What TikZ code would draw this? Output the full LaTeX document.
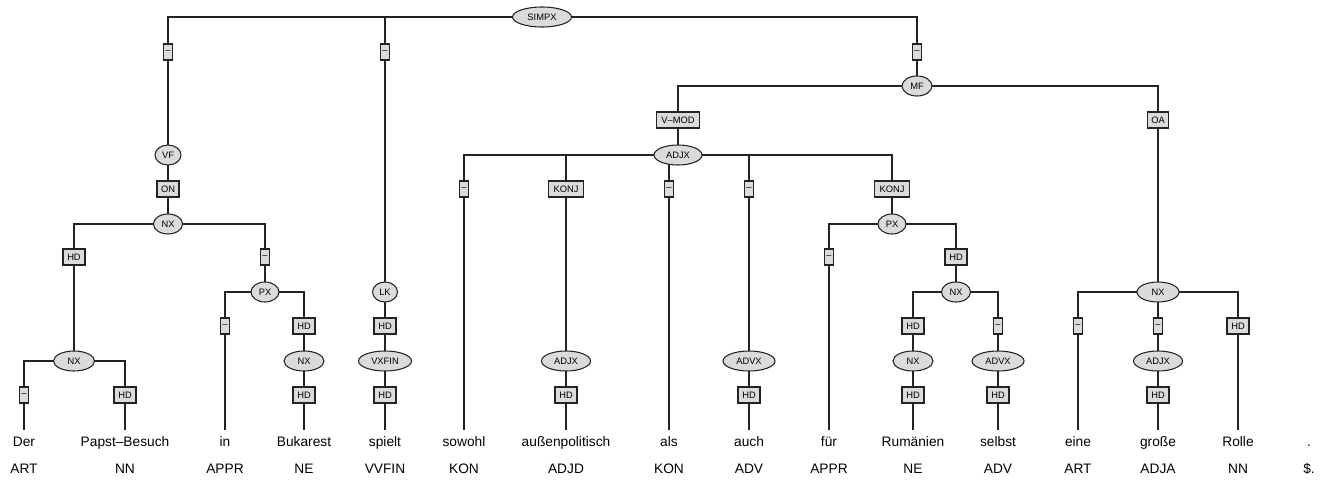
\documentclass[tikz,border=0pt]{standalone}
\usepackage{fontspec}
\setmainfont{Liberation Sans}
\usetikzlibrary{shapes.geometric,backgrounds}
\definecolor{nfill}{RGB}{218,220,218}
\definecolor{lcol}{RGB}{35,35,35}
\begin{document}
\begin{tikzpicture}[x=0.75pt,y=-0.75pt,
  cat/.style={ellipse,draw=lcol,fill=nfill,line width=0.8pt,inner sep=0pt,
    minimum height=15pt,minimum width=#1*0.75pt,font=\fontsize{7}{8}\selectfont},
  lab/.style={rectangle,draw=lcol,fill=nfill,line width=0.8pt,inner sep=0pt,
    minimum height=12pt,minimum width=#1*0.75pt,font=\fontsize{7}{8}\selectfont},
  dashbox/.style={lab=9},
  hdbox/.style={lab=22},
  wd/.style={font=\fontsize{10.3}{12}\selectfont,text height=8pt,text depth=2.5pt,
    inner xsep=0pt,inner ysep=4.5pt,anchor=north},
  postag/.style={font=\fontsize{10.3}{12}\selectfont,inner sep=0pt,anchor=base},
  br/.style={draw=lcol,line width=1pt}]
\useasboundingbox (0,0) rectangle (1337,483);
% nodes
\node[cat=59] (simpx) at (542,17) {SIMPX};
\node[dashbox] (e1) at (168,52) {–};
\node[dashbox] (e2) at (385,52) {–};
\node[dashbox] (e3) at (917,52) {–};
\node[cat=26] (vf) at (168,155) {VF};
\node[lab=22] (on) at (168,189) {ON};
\node[cat=29] (nx1) at (168,224) {NX};
\node[hdbox] (e4) at (74,257) {HD};
\node[dashbox] (e5) at (265,257) {–};
\node[cat=41] (nx2) at (74,361) {NX};
\node[dashbox] (e6) at (24,395) {–};
\node[hdbox] (e7) at (125,395) {HD};
\node[cat=28] (px1) at (265,292) {PX};
\node[dashbox] (e8) at (225,326) {–};
\node[hdbox] (e9) at (304,326) {HD};
\node[cat=40] (nx3) at (304,361) {NX};
\node[hdbox] (e10) at (304,395) {HD};
\node[cat=25] (lk) at (385,292) {LK};
\node[hdbox] (e11) at (385,326) {HD};
\node[cat=53] (vxfin) at (385,361) {VXFIN};
\node[hdbox] (e12) at (385,395) {HD};
\node[cat=30] (mf) at (917,86) {MF};
\node[lab=43] (e13) at (678,120) {V–MOD};
\node[lab=21] (e14) at (1158,120) {OA};
\node[cat=48] (adjx1) at (678,155) {ADJX};
\node[dashbox] (e15) at (464,189) {–};
\node[lab=35] (e16) at (566,189) {KONJ};
\node[dashbox] (e17) at (669,189) {–};
\node[dashbox] (e18) at (749,189) {–};
\node[lab=35] (e19) at (892,189) {KONJ};
\node[cat=49] (adjx2) at (566,361) {ADJX};
\node[hdbox] (e20) at (566,395) {HD};
\node[cat=52] (advx1) at (749,361) {ADVX};
\node[hdbox] (e21) at (749,395) {HD};
\node[cat=28] (px2) at (892,224) {PX};
\node[dashbox] (e22) at (829,257) {–};
\node[hdbox] (e23) at (956,257) {HD};
\node[cat=29] (nx4) at (956,292) {NX};
\node[hdbox] (e24) at (913,326) {HD};
\node[dashbox] (e25) at (998,326) {–};
\node[cat=40] (nx5) at (913,361) {NX};
\node[hdbox] (e26) at (913,395) {HD};
\node[cat=52] (advx2) at (998,361) {ADVX};
\node[hdbox] (e27) at (998,395) {HD};
\node[cat=42] (nx6) at (1158,292) {NX};
\node[dashbox] (e28) at (1078,326) {–};
\node[dashbox] (e29) at (1158,326) {–};
\node[hdbox] (e30) at (1238,326) {HD};
\node[cat=49] (adjx3) at (1158,361) {ADJX};
\node[hdbox] (e31) at (1158,395) {HD};
% words
\node[wd] (w1) at (24,430) {Der};
\node[wd] (w2) at (125,430) {Papst–Besuch};
\node[wd] (w3) at (225,430) {in};
\node[wd] (w4) at (304,430) {Bukarest};
\node[wd] (w5) at (385,430) {spielt};
\node[wd] (w6) at (464,430) {sowohl};
\node[wd] (w7) at (566,430) {außenpolitisch};
\node[wd] (w8) at (669,430) {als};
\node[wd] (w9) at (749,430) {auch};
\node[wd] (w10) at (829,430) {für};
\node[wd] (w11) at (913,430) {Rumänien};
\node[wd] (w12) at (998,430) {selbst};
\node[wd] (w13) at (1078,430) {eine};
\node[wd] (w14) at (1158,430) {große};
\node[wd] (w15) at (1238,430) {Rolle};
\node[wd] (w16) at (1309,430) {.};
% POS tags
\node[postag] (p1) at (24,473.3) {ART};
\node[postag] (p2) at (125,473.3) {NN};
\node[postag] (p3) at (225,473.3) {APPR};
\node[postag] (p4) at (304,473.3) {NE};
\node[postag] (p5) at (385,473.3) {VVFIN};
\node[postag] (p6) at (464,473.3) {KON};
\node[postag] (p7) at (566,473.3) {ADJD};
\node[postag] (p8) at (669,473.3) {KON};
\node[postag] (p9) at (749,473.3) {ADV};
\node[postag] (p10) at (829,473.3) {APPR};
\node[postag] (p11) at (913,473.3) {NE};
\node[postag] (p12) at (998,473.3) {ADV};
\node[postag] (p13) at (1078,473.3) {ART};
\node[postag] (p14) at (1158,473.3) {ADJA};
\node[postag] (p15) at (1238,473.3) {NN};
\node[postag] (p16) at (1309,473.3) {\$.};
% connectors
\begin{scope}[on background layer]
\draw[br] (simpx.center) -| (e1.center) -- (vf.center) -- (on.center) -- (nx1.center);
\draw[br] (nx1.center) -| (e4.center) -- (nx2.center);
\draw[br] (nx2.center) -| (e6.center) -- (w1.north);
\draw[br] (nx2.center) -| (e7.center) -- (w2.north);
\draw[br] (nx1.center) -| (e5.center) -- (px1.center);
\draw[br] (px1.center) -| (e8.center) -- (w3.north);
\draw[br] (px1.center) -| (e9.center) -- (nx3.center) -- (e10.center) -- (w4.north);
\draw[br] (simpx.center) -| (e2.center) -- (lk.center) -- (e11.center) -- (vxfin.center) -- (e12.center) -- (w5.north);
\draw[br] (simpx.center) -| (e3.center) -- (mf.center);
\draw[br] (mf.center) -| (e13.center) -- (adjx1.center);
\draw[br] (adjx1.center) -| (e15.center) -- (w6.north);
\draw[br] (adjx1.center) -| (e16.center) -- (adjx2.center) -- (e20.center) -- (w7.north);
\draw[br] (adjx1.center) -| (e17.center) -- (w8.north);
\draw[br] (adjx1.center) -| (e18.center) -- (advx1.center) -- (e21.center) -- (w9.north);
\draw[br] (adjx1.center) -| (e19.center) -- (px2.center);
\draw[br] (px2.center) -| (e22.center) -- (w10.north);
\draw[br] (px2.center) -| (e23.center) -- (nx4.center);
\draw[br] (nx4.center) -| (e24.center) -- (nx5.center) -- (e26.center) -- (w11.north);
\draw[br] (nx4.center) -| (e25.center) -- (advx2.center) -- (e27.center) -- (w12.north);
\draw[br] (mf.center) -| (e14.center) -- (nx6.center);
\draw[br] (nx6.center) -| (e28.center) -- (w13.north);
\draw[br] (nx6.center) -| (e29.center) -- (adjx3.center) -- (e31.center) -- (w14.north);
\draw[br] (nx6.center) -| (e30.center) -- (w15.north);
\end{scope}
\end{tikzpicture}
\end{document}
